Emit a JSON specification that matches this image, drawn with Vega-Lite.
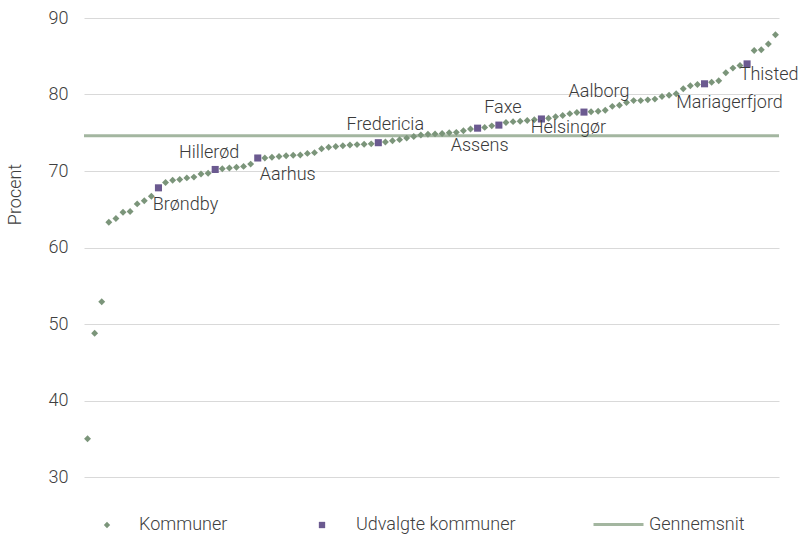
{
  "$schema": "https://vega.github.io/schema/vega-lite/v6.json",
  "width": 695,
  "height": 459,
  "autosize": {"type": "none"},
  "padding": {"left": 84, "top": 18, "right": 24, "bottom": 57},
  "background": "white",
  "config": {
    "view": {"stroke": null},
    "font": "Roboto",
    "text": {"font": "Roboto", "fontSize": 18, "fontWeight": 300, "align": "center", "baseline": "middle"},
    "legend": {
      "title": null, "orient": "none", "direction": "horizontal", "padding": 0,
      "labelFontSize": 18, "labelColor": "#404040", "labelFont": "Roboto", "labelFontWeight": 300,
      "symbolOpacity": 1
    }
  },
  "datasets": {
    "kommuner": [
      {"nr": 1, "procent": 35.0, "serie": "Kommuner"},
      {"nr": 2, "procent": 48.8, "serie": "Kommuner"},
      {"nr": 3, "procent": 52.9, "serie": "Kommuner"},
      {"nr": 4, "procent": 63.3, "serie": "Kommuner"},
      {"nr": 5, "procent": 63.8, "serie": "Kommuner"},
      {"nr": 6, "procent": 64.6, "serie": "Kommuner"},
      {"nr": 7, "procent": 64.7, "serie": "Kommuner"},
      {"nr": 8, "procent": 65.7, "serie": "Kommuner"},
      {"nr": 9, "procent": 66.1, "serie": "Kommuner"},
      {"nr": 10, "procent": 66.7, "serie": "Kommuner"},
      {"nr": 11, "procent": 67.8, "serie": "Udvalgte kommuner", "kommune": "Brøndby"},
      {"nr": 12, "procent": 68.5, "serie": "Kommuner"},
      {"nr": 13, "procent": 68.8, "serie": "Kommuner"},
      {"nr": 14, "procent": 68.9, "serie": "Kommuner"},
      {"nr": 15, "procent": 69.1, "serie": "Kommuner"},
      {"nr": 16, "procent": 69.2, "serie": "Kommuner"},
      {"nr": 17, "procent": 69.6, "serie": "Kommuner"},
      {"nr": 18, "procent": 69.7, "serie": "Kommuner"},
      {"nr": 19, "procent": 70.2, "serie": "Udvalgte kommuner", "kommune": "Hillerød"},
      {"nr": 20, "procent": 70.3, "serie": "Kommuner"},
      {"nr": 21, "procent": 70.4, "serie": "Kommuner"},
      {"nr": 22, "procent": 70.5, "serie": "Kommuner"},
      {"nr": 23, "procent": 70.6, "serie": "Kommuner"},
      {"nr": 24, "procent": 70.9, "serie": "Kommuner"},
      {"nr": 25, "procent": 71.7, "serie": "Udvalgte kommuner", "kommune": "Aarhus"},
      {"nr": 26, "procent": 71.7, "serie": "Kommuner"},
      {"nr": 27, "procent": 71.8, "serie": "Kommuner"},
      {"nr": 28, "procent": 71.9, "serie": "Kommuner"},
      {"nr": 29, "procent": 72.0, "serie": "Kommuner"},
      {"nr": 30, "procent": 72.05, "serie": "Kommuner"},
      {"nr": 31, "procent": 72.1, "serie": "Kommuner"},
      {"nr": 32, "procent": 72.3, "serie": "Kommuner"},
      {"nr": 33, "procent": 72.4, "serie": "Kommuner"},
      {"nr": 34, "procent": 72.9, "serie": "Kommuner"},
      {"nr": 35, "procent": 73.1, "serie": "Kommuner"},
      {"nr": 36, "procent": 73.2, "serie": "Kommuner"},
      {"nr": 37, "procent": 73.3, "serie": "Kommuner"},
      {"nr": 38, "procent": 73.4, "serie": "Kommuner"},
      {"nr": 39, "procent": 73.45, "serie": "Kommuner"},
      {"nr": 40, "procent": 73.5, "serie": "Kommuner"},
      {"nr": 41, "procent": 73.55, "serie": "Kommuner"},
      {"nr": 42, "procent": 73.7, "serie": "Udvalgte kommuner", "kommune": "Fredericia"},
      {"nr": 43, "procent": 73.8, "serie": "Kommuner"},
      {"nr": 44, "procent": 73.95, "serie": "Kommuner"},
      {"nr": 45, "procent": 74.1, "serie": "Kommuner"},
      {"nr": 46, "procent": 74.3, "serie": "Kommuner"},
      {"nr": 47, "procent": 74.5, "serie": "Kommuner"},
      {"nr": 48, "procent": 74.7, "serie": "Kommuner"},
      {"nr": 49, "procent": 74.8, "serie": "Kommuner"},
      {"nr": 50, "procent": 74.85, "serie": "Kommuner"},
      {"nr": 51, "procent": 74.9, "serie": "Kommuner"},
      {"nr": 52, "procent": 75.0, "serie": "Kommuner"},
      {"nr": 53, "procent": 75.05, "serie": "Kommuner"},
      {"nr": 54, "procent": 75.25, "serie": "Kommuner"},
      {"nr": 55, "procent": 75.5, "serie": "Kommuner"},
      {"nr": 56, "procent": 75.6, "serie": "Udvalgte kommuner", "kommune": "Assens"},
      {"nr": 57, "procent": 75.7, "serie": "Kommuner"},
      {"nr": 58, "procent": 75.9, "serie": "Kommuner"},
      {"nr": 59, "procent": 76.0, "serie": "Udvalgte kommuner", "kommune": "Faxe"},
      {"nr": 60, "procent": 76.35, "serie": "Kommuner"},
      {"nr": 61, "procent": 76.45, "serie": "Kommuner"},
      {"nr": 62, "procent": 76.5, "serie": "Kommuner"},
      {"nr": 63, "procent": 76.6, "serie": "Kommuner"},
      {"nr": 64, "procent": 76.7, "serie": "Kommuner"},
      {"nr": 65, "procent": 76.8, "serie": "Udvalgte kommuner", "kommune": "Helsingør"},
      {"nr": 66, "procent": 76.9, "serie": "Kommuner"},
      {"nr": 67, "procent": 77.1, "serie": "Kommuner"},
      {"nr": 68, "procent": 77.25, "serie": "Kommuner"},
      {"nr": 69, "procent": 77.5, "serie": "Kommuner"},
      {"nr": 70, "procent": 77.65, "serie": "Kommuner"},
      {"nr": 71, "procent": 77.7, "serie": "Udvalgte kommuner", "kommune": "Aalborg"},
      {"nr": 72, "procent": 77.75, "serie": "Kommuner"},
      {"nr": 73, "procent": 77.8, "serie": "Kommuner"},
      {"nr": 74, "procent": 77.95, "serie": "Kommuner"},
      {"nr": 75, "procent": 78.45, "serie": "Kommuner"},
      {"nr": 76, "procent": 78.6, "serie": "Kommuner"},
      {"nr": 77, "procent": 78.95, "serie": "Kommuner"},
      {"nr": 78, "procent": 79.2, "serie": "Kommuner"},
      {"nr": 79, "procent": 79.2, "serie": "Kommuner"},
      {"nr": 80, "procent": 79.3, "serie": "Kommuner"},
      {"nr": 81, "procent": 79.4, "serie": "Kommuner"},
      {"nr": 82, "procent": 79.75, "serie": "Kommuner"},
      {"nr": 83, "procent": 79.9, "serie": "Kommuner"},
      {"nr": 84, "procent": 80.1, "serie": "Kommuner"},
      {"nr": 85, "procent": 80.75, "serie": "Kommuner"},
      {"nr": 86, "procent": 81.15, "serie": "Kommuner"},
      {"nr": 87, "procent": 81.3, "serie": "Kommuner"},
      {"nr": 88, "procent": 81.4, "serie": "Udvalgte kommuner", "kommune": "Mariagerfjord"},
      {"nr": 89, "procent": 81.6, "serie": "Kommuner"},
      {"nr": 90, "procent": 81.8, "serie": "Kommuner"},
      {"nr": 91, "procent": 82.85, "serie": "Kommuner"},
      {"nr": 92, "procent": 83.45, "serie": "Kommuner"},
      {"nr": 93, "procent": 83.8, "serie": "Kommuner"},
      {"nr": 94, "procent": 84.0, "serie": "Udvalgte kommuner", "kommune": "Thisted"},
      {"nr": 95, "procent": 85.75, "serie": "Kommuner"},
      {"nr": 96, "procent": 85.85, "serie": "Kommuner"},
      {"nr": 97, "procent": 86.6, "serie": "Kommuner"},
      {"nr": 98, "procent": 87.8, "serie": "Kommuner"}
    ],
    "gennemsnit": [
      {"serie": "Gennemsnit", "procent": 74.6}
    ]
  },
  "data": {"name": "kommuner"},
  "encoding": {
    "y": {
      "field": "procent", "type": "quantitative",
      "scale": {"domain": [30, 90], "nice": false, "zero": false},
      "axis": {
        "title": "Procent",
        "values": [30, 40, 50, 60, 70, 80, 90],
        "grid": true, "gridColor": "#d9d9d9", "gridWidth": 1,
        "domain": false, "ticks": false,
        "labelPadding": 16, "labelFontSize": 18, "labelColor": "#404040", "labelFont": "Roboto", "labelFontWeight": 300,
        "titleFontSize": 18, "titleColor": "#404040", "titleFont": "Roboto", "titleFontWeight": 300,
        "titleAngle": -90, "titleX": -69, "titleY": 176, "titleBaseline": "middle", "titleAlign": "center"
      }
    }
  },
  "layer": [
    {
      "data": {"name": "gennemsnit"},
      "mark": {"type": "rule", "strokeWidth": 3, "strokeCap": "butt"},
      "encoding": {
        "color": {
          "field": "serie", "type": "nominal",
          "scale": {"domain": ["Gennemsnit"], "range": ["#a3b6a0"]},
          "legend": {"legendX": 508, "legendY": 480, "symbolType": "stroke", "symbolSize": 2500, "symbolStrokeWidth": 3, "labelOffset": 4}
        }
      }
    },
    {
      "transform": [{"filter": "datum.serie === 'Kommuner'"}],
      "mark": {"type": "point", "shape": "diamond", "filled": true, "size": 48, "opacity": 1, "strokeWidth": 0},
      "encoding": {
        "x": {"field": "nr", "type": "quantitative", "scale": {"domain": [0.5, 98.5], "nice": false, "zero": false}, "axis": null},
        "color": {
          "field": "serie", "type": "nominal",
          "scale": {"domain": ["Kommuner"], "range": ["#7b957a"]},
          "legend": {"legendX": 14, "legendY": 498, "symbolType": "diamond", "symbolSize": 40, "symbolStrokeWidth": 0, "labelOffset": 23}
        }
      }
    },
    {
      "transform": [{"filter": "datum.serie === 'Udvalgte kommuner'"}],
      "mark": {"type": "point", "shape": "square", "filled": true, "size": 50, "opacity": 1, "strokeWidth": 0},
      "encoding": {
        "x": {"field": "nr", "type": "quantitative", "scale": {"domain": [0.5, 98.5], "nice": false, "zero": false}, "axis": null},
        "color": {
          "field": "serie", "type": "nominal",
          "scale": {"domain": ["Udvalgte kommuner"], "range": ["#6b5a90"]},
          "legend": {"legendX": 229, "legendY": 498, "symbolType": "square", "symbolSize": 40, "symbolStrokeWidth": 0, "labelOffset": 25}
        }
      }
    },
    {
      "transform": [{"filter": "isValid(datum.kommune)"}],
      "layer": [
        {"transform": [{"filter": "datum.kommune === 'Brøndby'"}], "mark": {"type": "text", "dx": 27, "dy": 17}},
        {"transform": [{"filter": "datum.kommune === 'Hillerød'"}], "mark": {"type": "text", "dx": -6, "dy": -16}},
        {"transform": [{"filter": "datum.kommune === 'Aarhus'"}], "mark": {"type": "text", "dx": 30, "dy": 17}},
        {"transform": [{"filter": "datum.kommune === 'Fredericia'"}], "mark": {"type": "text", "dx": 7, "dy": -18}},
        {"transform": [{"filter": "datum.kommune === 'Assens'"}], "mark": {"type": "text", "dx": 2, "dy": 18}},
        {"transform": [{"filter": "datum.kommune === 'Faxe'"}], "mark": {"type": "text", "dx": 4, "dy": -17}},
        {"transform": [{"filter": "datum.kommune === 'Helsingør'"}], "mark": {"type": "text", "dx": 27, "dy": 9}},
        {"transform": [{"filter": "datum.kommune === 'Aalborg'"}], "mark": {"type": "text", "dx": 15, "dy": -20}},
        {"transform": [{"filter": "datum.kommune === 'Mariagerfjord'"}], "mark": {"type": "text", "dx": 25, "dy": 19}},
        {"transform": [{"filter": "datum.kommune === 'Thisted'"}], "mark": {"type": "text", "dx": 22, "dy": 11}}
      ],
      "encoding": {
        "x": {"field": "nr", "type": "quantitative", "scale": {"domain": [0.5, 98.5], "nice": false, "zero": false}, "axis": null},
        "text": {"field": "kommune"},
        "color": {"value": "#3a3a3a"}
      }
    }
  ],
  "resolve": {"scale": {"color": "independent"}}
}
